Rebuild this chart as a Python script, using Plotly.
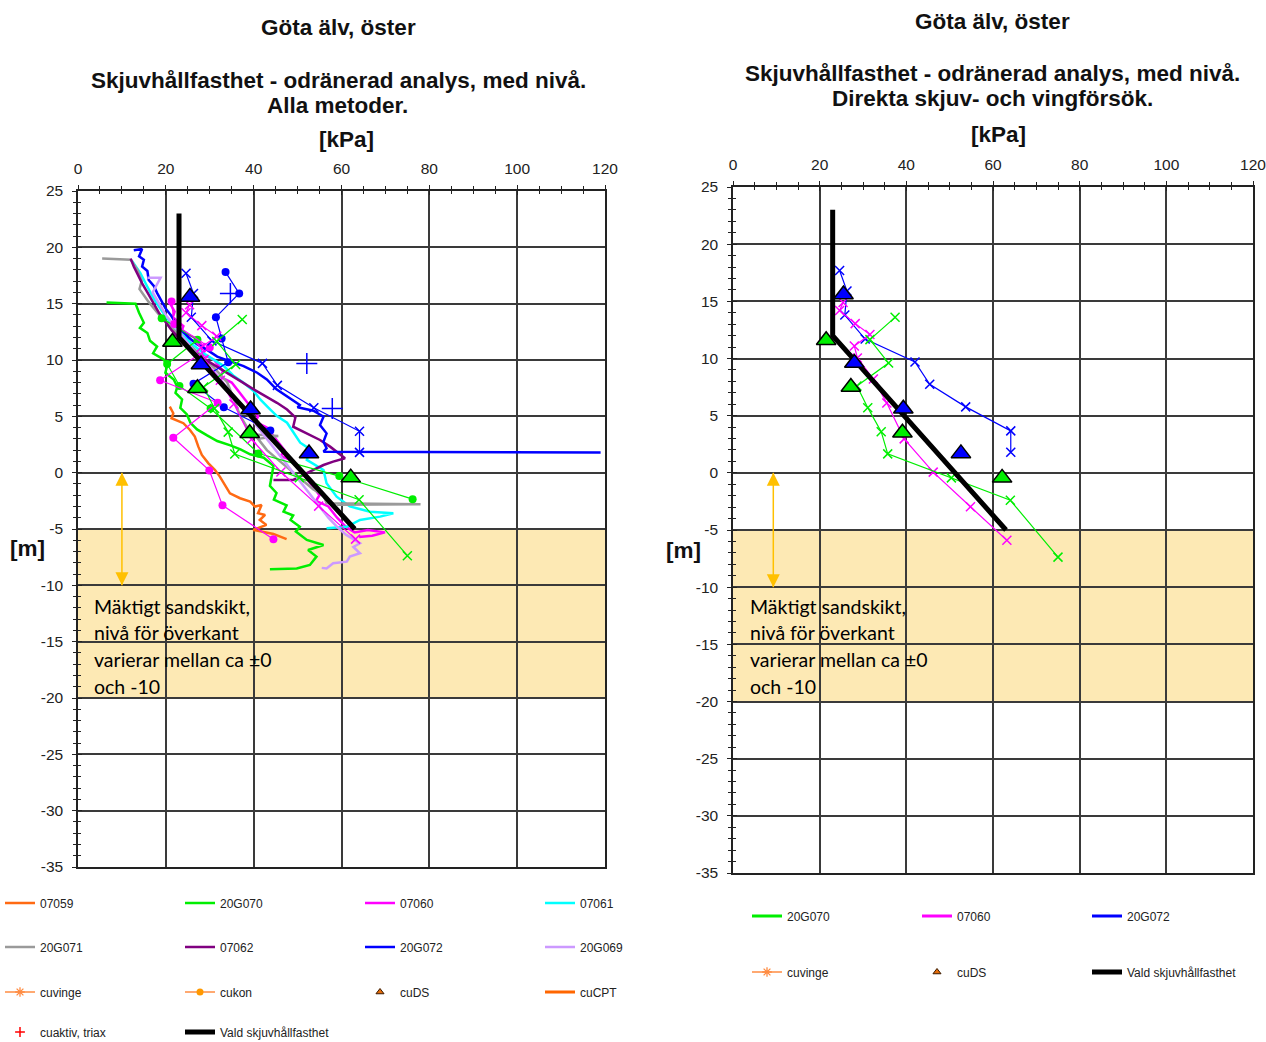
import plotly.graph_objects as go

W, H = 1266, 1042

# ---------------- axis ticks ----------------
x_ticks = [0, 20, 40, 60, 80, 100, 120]
y_ticks = [25, 20, 15, 10, 5, 0, -5, -10, -15, -20, -25, -30, -35]

# ---------------- CPT soundings (cu from CPT) ----------------
cpt_07059_x = [20.9, 21.7, 21.3, 24.0, 25.5, 26.6, 27.4, 28.2, 29.7, 31.2, 32.3, 33.8, 34.6, 36.9,
               39.2, 40.3, 41.8, 41.0, 42.6, 41.4, 42.9, 39.9, 44.5, 47.5]
cpt_07059_y = [5.86, 5.27, 4.83, 4.39, 3.79, 3.2, 2.31, 1.57, 0.83, 0.24, -0.35, -1.24, -1.83, -2.27,
               -2.57, -3.01, -2.87, -3.6, -3.75, -4.2, -4.64, -5.08, -5.44, -5.9]

cpt_20G070_x = [6.5, 13.1, 13.9, 15.0, 14.1, 15.8, 16.4, 18.0, 17.1, 19.5, 20.3, 19.9, 21.8, 22.6,
                22.2, 23.7, 23.3, 24.8, 25.6, 27.1, 29.4, 31.7, 34.7, 37.0, 39.2, 42.3, 44.5, 43.7,
                45.2, 44.6, 47.5, 46.8, 49.0, 48.4, 50.5, 49.6, 52.1, 55.9, 52.4, 54.3, 52.8, 49.8, 43.7]
cpt_20G070_y = [15.1, 15.0, 14.2, 13.3, 12.85, 12.4, 11.7, 11.2, 10.6, 10.05, 9.5, 8.87, 8.27, 7.62,
                7.09, 6.5, 5.76, 5.17, 4.43, 3.84, 3.31, 2.81, 2.42, 2.07, 1.63, 1.33, 0.6, -1.18,
                -1.8, -2.4, -2.9, -3.46, -3.8, -4.2, -4.8, -5.23, -5.97, -6.42, -6.86, -7.45, -8.19, -8.5, -8.57]

cpt_07060_x = [20.7, 22.0, 21.6, 24.0, 23.5, 26.5, 29.0, 28.4, 31.0, 33.0, 32.4, 35.0, 37.0, 39.0,
               41.0, 40.4, 43.0, 45.0, 47.0, 46.2, 49.0, 51.0, 53.0, 55.0, 54.2, 57.0, 59.0, 61.0,
               63.0, 66.0, 69.9, 67.0, 64.0]
cpt_07060_y = [15.2, 14.3, 13.8, 13.0, 12.5, 12.0, 11.0, 10.5, 10.0, 9.0, 8.5, 8.0, 7.0, 6.0,
               5.0, 4.5, 4.0, 3.0, 2.0, 1.5, 1.0, 0.0, -1.0, -2.0, -2.5, -3.0, -4.0, -4.8,
               -5.3, -5.1, -5.3, -5.6, -5.7]

cpt_07061_x = [12.3, 14.2, 15.8, 17.3, 19.2, 21.1, 23.3, 26.0, 28.6, 30.9, 33.2, 35.5, 37.7, 40.0,
               41.5, 43.4, 45.3, 47.6, 49.1, 50.6, 52.9, 52.1, 55.9, 56.6, 58.9, 61.9, 66.5, 71.8,
               68.8, 64.2, 61.2, 56.6]
cpt_07061_y = [18.8, 17.7, 16.5, 15.4, 14.3, 13.3, 12.4, 11.4, 10.6, 10.0, 9.46, 8.57, 7.98, 7.24,
               6.5, 5.76, 5.02, 4.43, 3.55, 2.66, 2.07, 1.13, 0.24, -0.94, -2.13, -3.0, -3.46, -3.6,
               -3.9, -4.2, -4.8, -4.94]

cpt_20G071_x = [5.5, 12.0, 13.5, 14.5, 14.0, 16.0, 18.5, 21.0, 24.0, 27.5, 31.0, 34.0, 37.0, 39.5,
                45.6, 41.0, 43.0, 46.0, 49.0, 51.5, 53.6, 55.9, 56.6, 78.0, 59.0]
cpt_20G071_y = [19.0, 18.9, 18.0, 17.0, 16.3, 15.2, 14.0, 13.0, 11.8, 10.6, 9.3, 8.0, 5.0, 3.4,
                3.25, 3.0, 2.0, 1.0, 0.0, -0.8, -1.5, -2.0, -2.72, -2.8, -2.85]

cpt_07062_x = [12.0, 12.7, 13.6, 14.6, 15.8, 17.1, 18.4, 19.9, 21.4, 23.3, 25.2, 27.9, 30.9, 33.9,
               37.0, 40.0, 42.7, 45.3, 47.6, 49.5, 49.0, 52.1, 55.1, 57.4, 60.8, 58.1, 55.9, 53.6,
               50.5, 49.0, 44.5]
cpt_07062_y = [19.0, 18.3, 17.6, 16.8, 16.0, 15.1, 14.2, 13.4, 12.6, 11.8, 11.1, 10.3, 9.6, 8.87,
               8.13, 7.39, 6.8, 6.2, 5.6, 4.9, 4.08, 3.49, 2.9, 2.31, 1.28, 0.98, 0.68, 0.24,
               -0.35, -0.65, -0.65]

cpt_20G072_x = [12.7, 14.6, 13.9, 15.0, 14.6, 15.8, 16.1, 17.3, 18.0, 18.8, 19.9, 21.1, 22.2, 23.7,
                25.2, 27.1, 29.4, 31.7, 34.7, 37.7, 40.8, 43.0, 45.2, 46.8, 48.3, 50.5, 50.0, 53.6,
                55.9, 55.1, 56.6, 55.9, 56.6, 55.9, 119.0]
cpt_20G072_y = [19.74, 19.86, 19.2, 18.9, 18.3, 17.9, 17.1, 16.55, 15.96, 15.4, 14.6, 14.0, 13.3, 12.6,
                12.0, 11.4, 10.9, 10.3, 9.9, 9.46, 8.87, 8.27, 7.4, 7.0, 6.6, 6.0, 5.8, 5.5,
                4.97, 4.23, 3.49, 2.75, 2.16, 1.86, 1.8]

cpt_20G069_x = [15.8, 18.8, 17.0, 18.5, 20.0, 22.0, 24.0, 26.0, 28.0, 31.0, 33.0, 35.0, 37.0, 39.0,
                41.0, 43.0, 45.0, 47.0, 49.0, 51.0, 53.0, 55.0, 57.0, 59.0, 61.0, 64.2, 62.7, 64.2,
                61.9, 61.2, 58.1, 56.6, 55.5]
cpt_20G069_y = [17.3, 17.3, 16.0, 15.0, 14.0, 13.0, 12.0, 11.0, 10.0, 9.0, 8.0, 7.0, 6.0, 5.0,
                4.0, 3.0, 2.0, 1.0, 0.0, -1.0, -2.0, -3.0, -4.0, -4.8, -5.5, -6.27, -6.6, -7.15,
                -7.45, -7.9, -8.04, -8.5, -8.45]

# ---------------- vane tests (cuvinge) ----------------
vinge_20G072_x = [24.6, 26.3, 25.8, 30.5, 42.0, 45.4, 53.7, 64.1, 64.1]
vinge_20G072_y = [17.7, 15.9, 13.8, 11.7, 9.7, 7.75, 5.77, 3.67, 1.8]
vinge_07060_x = [25.4, 24.6, 28.2, 31.6, 28.0, 28.7, 32.4, 35.5, 39.5, 46.2, 54.8, 63.2]
vinge_07060_y = [14.9, 14.2, 13.05, 12.1, 11.1, 10.05, 8.2, 6.1, 2.97, 0.06, -2.97, -5.9]
vinge_20G070_x = [37.4, 31.6, 35.9, 28.6, 31.1, 34.2, 35.7, 50.4, 64.0, 75.0]
vinge_20G070_y = [13.6, 11.65, 9.6, 7.6, 5.7, 3.6, 1.66, -0.44, -2.4, -7.37]

# ---------------- fall cone tests (cukon) ----------------
kon_20G072_x = [33.6, 36.7, 31.4, 32.7, 34.2, 26.3, 33.2, 43.8]
kon_20G072_y = [17.8, 15.9, 13.8, 11.9, 9.8, 7.9, 5.8, 3.75]
kon_20G070_x = [19.05, 27.2, 20.3, 23.1, 30.2, 41.1, 59.5, 76.2]
kon_20G070_y = [13.7, 11.8, 9.65, 7.7, 5.7, 1.7, -0.3, -2.35]
kon_07060_x = [21.3, 21.9, 30.0, 18.7, 31.8, 21.7, 29.9, 32.9, 44.5]
kon_07060_y = [15.2, 13.2, 11.1, 8.2, 6.2, 3.1, 0.2, -2.9, -5.9]

# ---------------- active triaxial tests ----------------
triax_20G072_x = [34.7, 52.1, 57.9]
triax_20G072_y = [15.9, 9.7, 5.7]

# ---------------- direct shear tests (cuDS) ----------------
ds_20G072_x = [25.5, 28.0, 39.3, 52.6]
ds_20G072_y = [15.6, 9.6, 5.6, 1.7]
ds_20G070_x = [21.5, 27.2, 39.1, 62.1]
ds_20G070_y = [11.6, 7.5, 3.5, -0.44]

# ---------------- chosen undrained shear strength ----------------
vald_x = [23, 23, 63]
vald_y = [23, 12, -5]

# ---------------- sand layer ----------------
sand_top, sand_bottom = -5, -20
sand_range_top, sand_range_bottom = 0, -10
sand_text = ["Mäktigt sandskikt,", "nivå för överkant", "varierar mellan ca ±0", "och -10"]

# ---------------- colours ----------------
C = {
    "07059": "#FF6A13", "20G070": "#00EE00", "07060": "#FF00FF", "07061": "#00FFFF",
    "20G071": "#9A9A9A", "07062": "#800080", "20G072": "#0000FF", "20G069": "#CC99FF",
}
ORANGE_LEG = "#FF8C42"
SAND = "#FDE9B4"
ARROW = "#FFC000"
FONT = "Liberation Sans, Arial, sans-serif"


def px(xp):
    return xp / W


def py(yp):
    return 1 - yp / H


fig = go.Figure()

# ---------------- left chart: all methods ----------------
cpt_series = [
    ("07059", cpt_07059_x, cpt_07059_y, "legend"),
    ("20G070", cpt_20G070_x, cpt_20G070_y, "legend"),
    ("07060", cpt_07060_x, cpt_07060_y, "legend"),
    ("07061", cpt_07061_x, cpt_07061_y, "legend"),
    ("20G071", cpt_20G071_x, cpt_20G071_y, "legend2"),
    ("07062", cpt_07062_x, cpt_07062_y, "legend2"),
    ("20G072", cpt_20G072_x, cpt_20G072_y, "legend2"),
    ("20G069", cpt_20G069_x, cpt_20G069_y, "legend2"),
]
for rank, (name, xs, ys, leg) in enumerate(cpt_series):
    fig.add_trace(go.Scatter(x=xs, y=ys, mode="lines", name=name, legend=leg, legendrank=rank + 1,
                             line=dict(color=C[name], width=2.5), xaxis="x", yaxis="y"))

for name, xs, ys in [("20G072", kon_20G072_x, kon_20G072_y),
                     ("20G070", kon_20G070_x, kon_20G070_y),
                     ("07060", kon_07060_x, kon_07060_y)]:
    fig.add_trace(go.Scatter(x=xs, y=ys, mode="lines+markers", showlegend=False,
                             line=dict(color=C[name], width=1.2),
                             marker=dict(symbol="circle", size=8, color=C[name]),
                             xaxis="x", yaxis="y"))

for xa, ya in [("x", "y"), ("x2", "y2")]:
    for name, xs, ys in [("20G072", vinge_20G072_x, vinge_20G072_y),
                         ("07060", vinge_07060_x, vinge_07060_y),
                         ("20G070", vinge_20G070_x, vinge_20G070_y)]:
        fig.add_trace(go.Scatter(x=xs, y=ys, mode="lines+markers", showlegend=False,
                                 line=dict(color=C[name], width=1.2),
                                 marker=dict(symbol="x-thin", size=9,
                                             line=dict(color=C[name], width=1.5)),
                                 xaxis=xa, yaxis=ya))

fig.add_trace(go.Scatter(x=triax_20G072_x, y=triax_20G072_y, mode="markers", showlegend=False,
                         marker=dict(symbol="cross-thin", size=15,
                                     line=dict(color=C["20G072"], width=1.5)),
                         xaxis="x", yaxis="y"))

# chosen strength profile, both charts
fig.add_trace(go.Scatter(x=vald_x, y=vald_y, mode="lines", name="Vald skjuvhållfasthet",
                         legend="legend4", legendrank=2, line=dict(color="black", width=5),
                         xaxis="x", yaxis="y"))
fig.add_trace(go.Scatter(x=vald_x, y=vald_y, mode="lines", name="Vald skjuvhållfasthet",
                         legend="legend6", legendrank=3, line=dict(color="black", width=5),
                         xaxis="x2", yaxis="y2"))

# direct shear triangles, both charts
for xa, ya in [("x", "y"), ("x2", "y2")]:
    for name, xs, ys in [("20G072", ds_20G072_x, ds_20G072_y),
                         ("20G070", ds_20G070_x, ds_20G070_y)]:
        fig.add_trace(go.Scatter(x=xs, y=ys, mode="markers", showlegend=False,
                                 marker=dict(symbol="triangle-up", size=17, color=C[name],
                                             line=dict(color="black", width=1.5)),
                                 xaxis=xa, yaxis=ya))

# sand layer extent arrows
for xa, ya, ax_x in [("x", "y", 10), ("x2", "y2", 9.3)]:
    fig.add_trace(go.Scatter(x=[ax_x, ax_x], y=[sand_range_top, sand_range_bottom],
                             mode="lines+markers", showlegend=False,
                             line=dict(color=ARROW, width=1.5),
                             marker=dict(symbol=["arrow-up", "arrow-down"], size=13, color=ARROW),
                             xaxis=xa, yaxis=ya))


# ---------------- legend-only entries ----------------
def leg_entry(name, legend, rank, xa, ya, mode, line=None, marker=None):
    fig.add_trace(go.Scatter(x=[None], y=[None], mode=mode, name=name, legend=legend,
                             legendrank=rank, line=line, marker=marker, xaxis=xa, yaxis=ya))


vinge_marker = dict(symbol="asterisk-open", size=8, line=dict(color=ORANGE_LEG, width=1.3))
ds_marker = dict(symbol="triangle-up", size=7, color="#E46C0A", line=dict(color="#3a1a00", width=1))

leg_entry("cuvinge", "legend3", 1, "x", "y", "lines+markers",
          line=dict(color=ORANGE_LEG, width=1.5), marker=vinge_marker)
leg_entry("cukon", "legend3", 2, "x", "y", "lines+markers",
          line=dict(color=ORANGE_LEG, width=1.5),
          marker=dict(symbol="circle", size=7, color="#FF9900"))
leg_entry("cuDS", "legend3", 3, "x", "y", "markers", marker=ds_marker)
leg_entry("cuCPT", "legend3", 4, "x", "y", "lines", line=dict(color="#FF6600", width=3))
leg_entry("cuaktiv, triax", "legend4", 1, "x", "y", "markers",
          marker=dict(symbol="cross-thin", size=7, line=dict(color="#FF0000", width=1.5)))

leg_entry("20G070", "legend5", 1, "x2", "y2", "lines", line=dict(color=C["20G070"], width=3))
leg_entry("07060", "legend5", 2, "x2", "y2", "lines", line=dict(color=C["07060"], width=3))
leg_entry("20G072", "legend5", 3, "x2", "y2", "lines", line=dict(color=C["20G072"], width=3))
leg_entry("cuvinge", "legend6", 1, "x2", "y2", "lines+markers",
          line=dict(color=ORANGE_LEG, width=1.5), marker=vinge_marker)
leg_entry("cuDS", "legend6", 2, "x2", "y2", "markers", marker=ds_marker)

# invisible traces so the tick-overlay axes are rendered
fig.add_trace(go.Scatter(x=[None], y=[None], xaxis="x3", yaxis="y3", showlegend=False))
fig.add_trace(go.Scatter(x=[None], y=[None], xaxis="x4", yaxis="y4", showlegend=False))


# ---------------- axes ----------------
def x_axis(domain, anchor):
    return dict(domain=domain, anchor=anchor, range=[0, 120], side="top", tickmode="array",
                tickvals=x_ticks, ticktext=[str(v) for v in x_ticks],
                showgrid=True, gridcolor="#3a3a3a", gridwidth=1.5,
                showline=True, linecolor="#222", linewidth=1.5, mirror=True,
                ticks="outside", ticklen=4, tickwidth=1.3, tickcolor="#222",
                minor=dict(tickmode="linear", dtick=5, tick0=0, ticks="outside", ticklen=3,
                           tickwidth=1.1, tickcolor="#222", showgrid=False),
                zeroline=False, ticklabelstandoff=5, ticklabeloverflow="allow",
                tickfont=dict(family=FONT, size=15.5, color="#222"), fixedrange=True)


def y_axis(domain, anchor):
    return dict(domain=domain, anchor=anchor, range=[-35, 25], tickmode="array",
                tickvals=y_ticks, ticktext=[str(v) for v in y_ticks],
                showgrid=True, gridcolor="#3a3a3a", gridwidth=1.5,
                showline=True, linecolor="#222", linewidth=1.5, mirror=True,
                ticks="outside", ticklen=4, tickwidth=1.3, tickcolor="#222",
                minor=dict(tickmode="linear", dtick=1, tick0=0, ticks="outside", ticklen=3,
                           tickwidth=1.1, tickcolor="#222", showgrid=False),
                zeroline=False, ticklabelstandoff=6, ticklabeloverflow="allow",
                tickfont=dict(family=FONT, size=15.5, color="#222"), fixedrange=True)


def x_inner(over, anchor):
    return dict(overlaying=over, anchor=anchor, side="top", range=[0, 120], tickmode="array",
                tickvals=x_ticks, showticklabels=False, showgrid=False, showline=False,
                zeroline=False, ticks="inside", ticklen=4, tickwidth=1.3, tickcolor="#222",
                minor=dict(tickmode="linear", dtick=5, tick0=0, ticks="inside", ticklen=3,
                           tickwidth=1.1, tickcolor="#222", showgrid=False), fixedrange=True)


def y_inner(over, anchor):
    return dict(overlaying=over, anchor=anchor, side="left", range=[-35, 25], tickmode="array",
                tickvals=y_ticks, showticklabels=False, showgrid=False, showline=False,
                zeroline=False, ticks="inside", ticklen=4, tickwidth=1.3, tickcolor="#222",
                minor=dict(tickmode="linear", dtick=1, tick0=0, ticks="inside", ticklen=3,
                           tickwidth=1.1, tickcolor="#222", showgrid=False), fixedrange=True)


left_xdom = [px(78), px(605)]
left_ydom = [py(867), py(191)]
right_xdom = [px(733), px(1253)]
right_ydom = [py(873), py(187)]

# ---------------- sand layer shapes ----------------
shapes = []
for xr, yr in [("x", "y"), ("x2", "y2")]:
    shapes.append(dict(type="rect", xref=xr, yref=yr, x0=0, x1=120, y0=sand_top, y1=sand_bottom,
                       fillcolor=SAND, line=dict(width=0), layer="below"))

# ---------------- texts ----------------
annotations = []


def text(t, xp, yp, size=22.5, bold=True, xanchor="center", family=FONT, color="#111"):
    annotations.append(dict(text=f"<b>{t}</b>" if bold else t, x=px(xp), y=py(yp),
                            xref="paper", yref="paper", xanchor=xanchor, yanchor="middle",
                            showarrow=False, font=dict(family=family, size=size, color=color)))


text("Göta älv, öster", 338, 28)
text("Skjuvhållfasthet - odränerad analys, med nivå.", 338, 80)
text("Alla metoder.", 337, 105)
text("[kPa]", 346, 140)
text("[m]", 27, 548)

text("Göta älv, öster", 992, 21)
text("Skjuvhållfasthet - odränerad analys, med nivå.", 992, 73)
text("Direkta skjuv- och vingförsök.", 992, 99)
text("[kPa]", 998, 135)
text("[m]", 683, 550)

for i, line in enumerate(sand_text):
    yp = 606 + i * 26.7
    for xp in (92, 748):
        text(line, xp, yp, size=19.5, bold=False, xanchor="left",
             family="Lato, Carlito, sans-serif", color="#000")


def legend_row(xp, yp, entry_w):
    return dict(orientation="h", x=px(xp), xanchor="left", y=py(yp), yanchor="middle",
                entrywidth=entry_w, entrywidthmode="pixels", traceorder="normal",
                font=dict(family=FONT, size=12, color="#222"),
                bgcolor="rgba(0,0,0,0)", borderwidth=0, itemclick=False, itemdoubleclick=False)


fig.update_layout(
    width=W, height=H, margin=dict(l=0, r=0, t=0, b=0, autoexpand=False),
    paper_bgcolor="white", plot_bgcolor="white",
    xaxis=x_axis(left_xdom, "y"), yaxis=y_axis(left_ydom, "x"),
    xaxis2=x_axis(right_xdom, "y2"), yaxis2=y_axis(right_ydom, "x2"),
    xaxis3=x_inner("x", "y"), yaxis3=y_inner("y", "x"),
    xaxis4=x_inner("x2", "y2"), yaxis4=y_inner("y2", "x2"),
    shapes=shapes, annotations=annotations,
    legend=legend_row(0, 903, 135),
    legend2=legend_row(0, 947, 135),
    legend3=legend_row(0, 992, 135),
    legend4=legend_row(0, 1032, 135),
    legend5=legend_row(747, 916, 125),
    legend6=legend_row(747, 972, 125),
    showlegend=True,
)

fig.write_html("out.html")
